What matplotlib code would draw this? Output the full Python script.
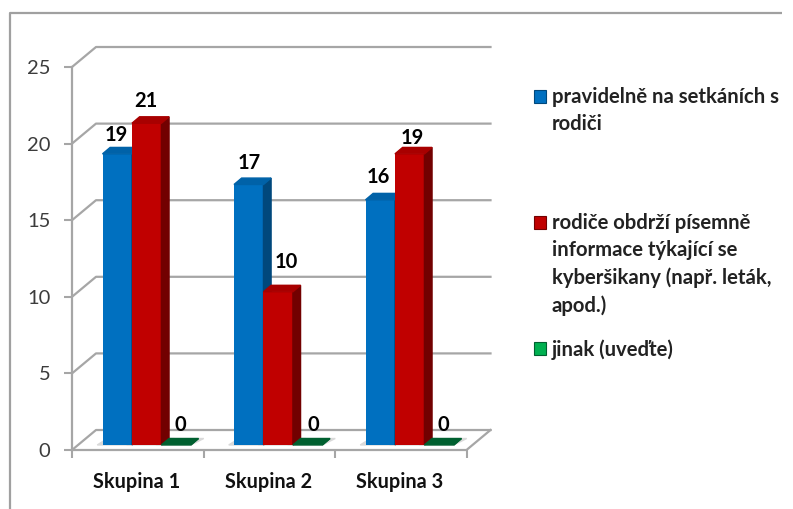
import matplotlib
matplotlib.use("Agg")
import matplotlib.pyplot as plt
from matplotlib.patches import Polygon, Rectangle
from matplotlib.transforms import ScaledTranslation
import numpy as np

categories = ["Skupina 1", "Skupina 2", "Skupina 3"]
series_names = ["pravidelně na setkáních s\nrodiči",
                "rodiče obdrží písemně\ninformace týkající se\nkyberšikany (např. leták,\napod.)",
                "jinak (uveďte)"]
v_regular = [19, 17, 16]
v_letter = [21, 10, 19]
v_other = [0, 0, 0]
yticks = [0, 5, 10, 15, 20, 25]

# hand placement of the value labels (pixels relative to the bar's front top centre)
label_dx = [[-1, 0, -2], [-1, 8, 3], [4, 6, 4]]
label_dy = [[19, 22, 23], [22, 30, 16], [20, 20, 20]]

W, H = 793, 509
plt.rcParams["font.family"] = ["Lato", "DejaVu Sans"]
fig = plt.figure(figsize=(W/100, H/100), dpi=100, facecolor="white")

frame = fig.add_axes([0, 0, 1, 1]); frame.set_xlim(0, W); frame.set_ylim(H, 0); frame.axis("off")
frame.plot([10, 10, 782], [H, 13, 13], color="#a0a0a0", lw=1.6, solid_capstyle="butt")

L, R, T, B = 72, 466.5, 67, 450
ax = fig.add_axes([L/W, 1-B/H, (R-L)/W, (B-T)/H])
ax.set_xlim(0, 3); ax.set_ylim(0, 25); ax.patch.set_alpha(0)
for s in ax.spines.values(): s.set_visible(False)

DX, DY = 0.1825, 1.305
grid = "#a6a6a6"
for t in yticks:
    ax.plot([0, DX, 3+DX], [t, t+DY, t+DY], color=grid, lw=1.6, clip_on=False, zorder=1)
ax.plot([0, 0], [0, 25], color=grid, lw=1.6, clip_on=False, zorder=1)
ax.plot([0, 3, 3+DX], [0, 0, DY], color=grid, lw=1.6, clip_on=False, zorder=1)

ax.set_yticks(yticks)
ax.set_yticklabels([str(t) for t in yticks], fontsize=14.5, color="#3c3c3c")
shift = ScaledTranslation(0, -1.5/100, fig.dpi_scale_trans)
for lab in ax.get_yticklabels():
    lab.set_transform(lab.get_transform() + shift)
ax.set_xticks([0, 1, 2, 3]); ax.set_xticklabels([])
ax.tick_params(axis="y", length=5.5, width=1.5, color=grid, pad=10)
ax.tick_params(axis="x", length=5.5, width=1.5, color=grid)
for i, c in enumerate(categories):
    ax.annotate(c, (i+0.5, 0), xytext=(-1, -32), textcoords="offset pixels",
                ha="center", va="center", fontsize=14.3, fontweight="bold", color="#111111")

bw = 0.224; x0 = 0.232
oy = 0.33
bx, by = 0.058, 0.42
styles = [("#0070c0", "#00487c", "#0062a8"),
          ("#c00000", "#720000", "#a80000"),
          ("#00a050", "#005a2a", "#006030")]
series = [v_regular, v_letter, v_other]
for i, (vals, (front, side, top)) in enumerate(zip(series, styles)):
    for c, v in enumerate(vals):
        x = c + x0 + i*bw
        z = 3 + i
        y0 = oy
        ax.add_patch(Polygon([(x-0.04, y0), (x+bw, y0), (x+bw+bx+0.04, y0+by), (x+bx-0.02, y0+by)],
                             closed=True, color="#d9d9d9", zorder=2, clip_on=False))
        ax.bar(x, v, bw, bottom=y0, align="edge", color=front, zorder=z, clip_on=False)
        ax.add_patch(Polygon([(x+bw, y0), (x+bw+bx, y0+by), (x+bw+bx, y0+by+v), (x+bw, y0+v)],
                             closed=True, color=side, zorder=z, clip_on=False))
        ax.add_patch(Polygon([(x, y0+v), (x+bx, y0+v+by), (x+bw+bx, y0+v+by), (x+bw, y0+v)],
                             closed=True, color=top, zorder=z, clip_on=False))
        ax.annotate(str(v), (x+bw/2, y0+v), xytext=(label_dx[i][c], label_dy[i][c]),
                    textcoords="offset pixels", ha="center", va="center",
                    fontsize=14.5, fontweight="bold", color="black", zorder=10)

ly = [96, 222.5, 348.5]
lc = [("#0070c0", "#00487c"), ("#c00000", "#720000"), ("#00b050", "#006030")]
for (f, d), y, name in zip(lc, ly, series_names):
    frame.add_patch(Rectangle((533.5, y-6.5), 12.5, 13, facecolor=f, edgecolor=d, lw=0.8))
    frame.text(552, y-9.5, name, fontsize=14.6, fontweight="bold", color="#222222",
               va="top", ha="left", linespacing=1.45)

fig.savefig("out.png", dpi=100, facecolor="white")
